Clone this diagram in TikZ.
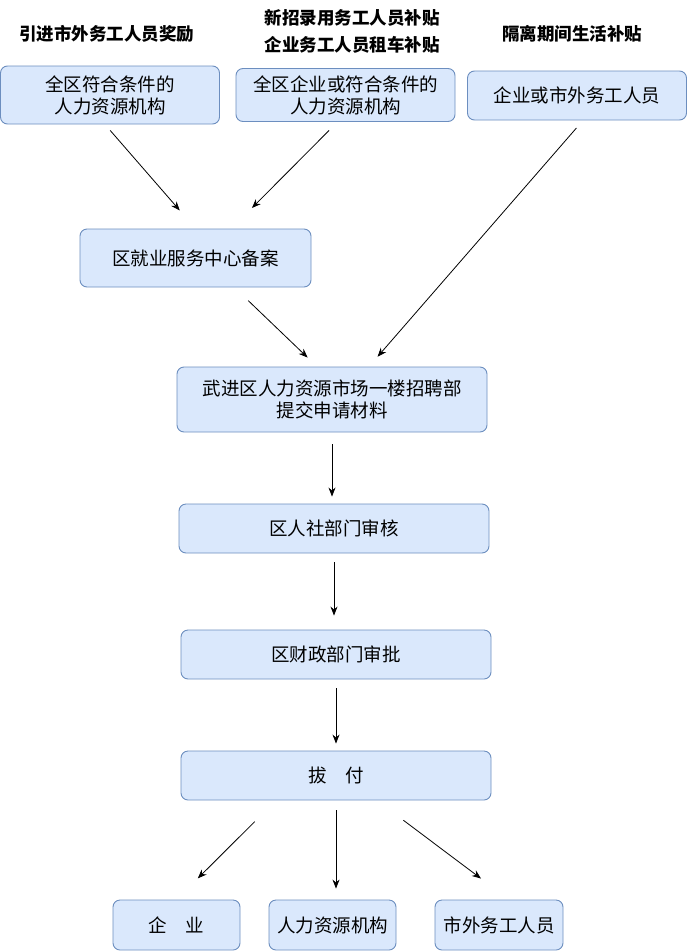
\documentclass[tikz,border=0pt]{standalone}
\usepackage{fontspec}
\setmainfont{Noto Sans CJK SC}
\usepackage{xcolor}
\usetikzlibrary{arrows.meta,positioning}

\begin{document}
\begin{tikzpicture}[x=1pt,y=-1pt,
  box/.style={draw=boxline,fill=boxfill,line width=0.9pt,rounded corners=7pt,
    align=center,inner sep=0pt,font=\fontsize{18.5}{22}\selectfont},
  head/.style={align=center,font=\fontsize{17.5}{27}\selectfont\bfseries},
  arr/.style={-{Stealth[length=9pt,width=7pt]},line width=0.8pt}]
\definecolor{boxfill}{HTML}{DAE8FC}
\definecolor{boxline}{HTML}{6C8EBF}
\useasboundingbox (0,0) rectangle (688,951);

% Subsidy headings
\node[head] (tjjl) at (107,34) {引进市外务工人员奖励};
\node[head] (xzbt) at (352,31) {新招录用务工人员补贴\\企业务工人员租车补贴};
\node[head] (glbt) at (572,34) {隔离期间生活补贴};

% Applicants
\node[box,minimum width=219pt,minimum height=58pt] (qyfh) at (110,95) {全区符合条件的\\人力资源机构};
\node[box,minimum width=219pt,minimum height=53pt] (qyqy) at (345.5,95) {全区企业或符合条件的\\人力资源机构};
\node[box,minimum width=219pt,minimum height=49pt] (swwg) at (577,95.5) {企业或市外务工人员};

% Procedure
\node[box,minimum width=231pt,minimum height=58pt] (jyba) at (195.5,258) {区就业服务中心备案};
\node[box,minimum width=310pt,minimum height=65pt] (tjcl) at (332,399.5) {武进区人力资源市场一楼招聘部\\提交申请材料};
\node[box,minimum width=310pt,minimum height=49pt] (rssh) at (334,528.5) {区人社部门审核};
\node[box,minimum width=310pt,minimum height=49pt] (czsp) at (336,654.5) {区财政部门审批};
\node[box,minimum width=310pt,minimum height=49pt] (bofu) at (336,775.5) {拔\quad 付};

% Receivers
\node[box,minimum width=127pt,minimum height=50pt] (qiye) at (176.5,925) {企\quad 业};
\node[box,minimum width=127pt,minimum height=50pt] (rlzy) at (332.5,925) {人力资源机构};
\node[box,minimum width=128pt,minimum height=50pt] (swry) at (499,925) {市外务工人员};

% Arrows
\draw[arr,shorten <=8pt,shorten >=24pt] ([xshift=-5pt]qyfh.south) -- (jyba.north);
\draw[arr,shorten <=12pt,shorten >=29pt] ([xshift=-8pt]qyqy.south) -- ([xshift=36pt]jyba.north);
\draw[arr,shorten <=10pt,shorten >=13pt] ([xshift=6pt]swwg.south) -- ([xshift=37pt]tjcl.north);
\draw[arr,shorten <=19pt,shorten >=13pt] ([xshift=39pt]jyba.south) -- ([xshift=-15pt]tjcl.north);
\foreach \a/\b/\s/\e in {tjcl/rssh/12/7,rssh/czsp/9/14,czsp/bofu/9/7} {
  \draw[arr,shorten <=\s pt,shorten >=\e pt] (\a.south) -- (\a.south |- \b.north);
}
\draw[arr,shorten <=30pt,shorten >=30pt] ([xshift=-60pt]bofu.south) -- (qiye.north);
\draw[arr,shorten <=10pt,shorten >=11pt] (bofu.south) -- (bofu.south |- rlzy.north);
\draw[arr,shorten <=33pt,shorten >=35pt] ([xshift=41pt]bofu.south) -- ([xshift=10pt]swry.north);
\end{tikzpicture}
\end{document}
